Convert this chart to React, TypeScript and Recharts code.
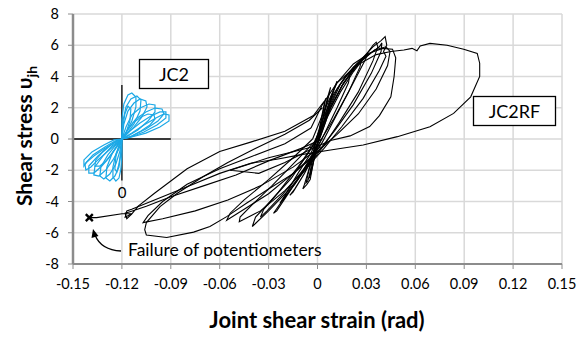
import { ComposedChart, Line, Scatter, XAxis, YAxis, CartesianGrid } from 'recharts';

// tick values
const xTicks = [-0.15, -0.12, -0.09, -0.06, -0.03, 0, 0.03, 0.06, 0.09, 0.12, 0.15];
const yTicks = [-8, -6, -4, -2, 0, 2, 4, 6, 8];

// JC2RF hysteresis (joint shear strain, shear stress)
const rfC1 = [[0, 0], [0.002, 1.0], [0.004, 2.0], [0.005, 2.6], [0.004, 2.2], [0.001, 0.6], [-0.002, -0.6], [-0.004, -1.8], [-0.005, -2.5], [-0.004, -2.2], [-0.001, -0.8], [0.001, 0.2]];
const rfC2 = [[0.001, 0.2], [0.004, 1.5], [0.007, 2.8], [0.008, 3.3], [0.006, 2.6], [0.002, 0.8], [-0.002, -0.6], [-0.005, -1.9], [-0.007, -2.8], [-0.006, -2.7], [-0.003, -1.6], [0, -0.3], [0.002, 0.4]];
const rfC3 = [[0.002, 0.4], [0.006, 2.0], [0.01, 3.2], [0.012, 3.7], [0.01, 3.1], [0.005, 1.3], [0, -0.2], [-0.004, -1.5], [-0.008, -2.9], [-0.009, -3.2], [-0.0065, -2.9], [-0.0045, -2.6], [-0.002, -1.2], [0.001, 0.1]];
const rfM1 = [[0.001, 0.1], [0.006, 1.8], [0.012, 3.2], [0.018, 4.1], [0.02, 4.2], [0.019, 3.6], [0.012, 2.0], [0.005, 0.5], [-0.002, -1.0], [-0.008, -2.2], [-0.014, -3.2], [-0.017, -3.6], [-0.015, -3.4], [-0.008, -2.2], [-0.002, -0.8], [0.002, 0.2]];
const rfM2 = [[0.002, 0.2], [0.008, 2.0], [0.015, 3.4], [0.022, 4.5], [0.028, 5.2], [0.031, 5.5], [0.029, 5.0], [0.02, 3.2], [0.01, 1.2], [0.003, -0.2], [-0.005, -1.5], [-0.014, -2.9], [-0.022, -4.0], [-0.027, -4.75], [-0.025, -4.6], [-0.016, -3.2], [-0.006, -1.5], [0, -0.3]];
const rfM3 = [[0, -0.3], [0.006, 1.4], [0.014, 3.0], [0.022, 4.3], [0.03, 5.4], [0.034, 6.0], [0.036, 6.2], [0.037, 5.9], [0.034, 5.0], [0.025, 3.0], [0.013, 1.0], [0.004, -0.4], [-0.006, -1.8], [-0.018, -3.3], [-0.03, -4.6], [-0.04, -5.6], [-0.038, -5.0], [-0.029, -4.0], [-0.016, -2.5], [-0.005, -0.8], [0.001, 0.3]];
const rfM4 = [[0.001, 0.3], [0.008, 2.0], [0.016, 3.6], [0.026, 5.0], [0.034, 5.9], [0.039, 6.3], [0.0415, 6.55], [0.0425, 6.0], [0.0405, 5.6], [0.042, 5.3], [0.038, 4.4], [0.028, 2.6], [0.015, 0.8], [0.004, -0.6], [-0.008, -2.0], [-0.02, -3.3], [-0.035, -4.6], [-0.048, -5.3], [-0.0475, -5.0], [-0.04, -4.2], [-0.028, -3.0], [-0.014, -1.5], [-0.002, -0.2]];
const rfM5 = [[-0.002, -0.2], [0.006, 1.6], [0.015, 3.4], [0.025, 4.8], [0.035, 5.7], [0.042, 5.9], [0.0445, 5.6], [0.043, 4.7], [0.036, 3.2], [0.025, 1.6], [0.012, 0.3], [0, -0.8], [-0.015, -2.2], [-0.03, -3.5], [-0.045, -4.5], [-0.0557, -5.2], [-0.0536, -4.75], [-0.045, -3.9], [-0.03, -2.6], [-0.015, -1.2], [-0.003, 0]];
const rfM6 = [[-0.003, 0], [0.004, 1.8], [0.012, 3.6], [0.022, 4.8], [0.032, 5.5], [0.04, 5.8], [0.046, 5.75], [0.048, 5.2], [0.047, 4.0], [0.045, 2.7], [0.038, 1.5], [0.032, 0.8], [0.02, 0.2], [0.008, -0.1], [-0.005, -0.7], [-0.02, -1.5], [-0.036, -2.2], [-0.0536, -2.0], [-0.03, -1.2], [-0.0025, -0.5]];
const rfM7 = [[-0.0025, -0.5], [0.003, 1.2], [0.01, 2.9], [0.017, 4.0], [0.024, 4.8], [0.027, 5.1], [0.026, 4.6], [0.019, 3.0], [0.01, 1.3], [0.003, 0.1], [-0.004, -1.2], [-0.012, -2.6], [-0.02, -3.7], [-0.023, -4.1], [-0.02, -3.6], [-0.012, -2.2], [-0.004, -0.9], [0.001, 0.2]];
const rfM8 = [[0.001, 0.2], [0.007, 1.9], [0.014, 3.5], [0.022, 4.6], [0.03, 5.3], [0.038, 5.9], [0.0395, 6.15], [0.039, 5.6], [0.033, 4.2], [0.022, 2.2], [0.011, 0.6], [0.002, -0.6], [-0.009, -2.0], [-0.021, -3.5], [-0.031, -4.6], [-0.035, -5.0], [-0.033, -4.5], [-0.024, -3.4], [-0.012, -1.8], [-0.002, -0.3]];
const rfN1 = [[0.003, 0], [-0.01, -0.6], [-0.03, -1.4], [-0.05, -2.3], [-0.07, -3.0], [-0.09, -3.7], [-0.105, -4.3], [-0.115, -4.65], [-0.118, -4.75], [-0.117, -5.1], [-0.114, -4.8], [-0.11, -4.3], [-0.1, -3.47], [-0.08, -1.9], [-0.06, -0.8], [-0.041, -0.2], [-0.02, 0.5], [-0.0025, 1.5], [0.004, 2.4]];
const rfN2 = [[0.002, -0.5], [-0.015, -1.8], [-0.035, -3.0], [-0.055, -3.9], [-0.075, -4.6], [-0.095, -5.1], [-0.107, -5.35], [-0.104, -4.9], [-0.095, -4.0], [-0.08, -2.9], [-0.06, -1.9], [-0.04, -1.1], [-0.02, -0.3], [-0.004, 0.7]];
const rfN3 = [[0, -0.6], [-0.0025, -1.13], [-0.0147, -2.2], [-0.031, -3.26], [-0.0434, -4.1], [-0.0557, -4.97], [-0.066, -5.6], [-0.076, -5.96], [-0.0925, -6.3], [-0.105, -6.14], [-0.106, -5.8], [-0.105, -5.35], [-0.0966, -4.33], [-0.086, -3.47], [-0.07, -2.4], [-0.055, -1.5], [-0.04, -0.7], [-0.02, 0.3], [-0.005, 1.2], [0.003, 2.0]];
const rfLast = [[-0.004, 0.7], [0.003, 2.2], [0.012, 3.6], [0.024, 4.7], [0.036, 5.4], [0.045, 5.6], [0.053, 5.7], [0.058, 5.8], [0.061, 5.65], [0.063, 5.95], [0.069, 6.12], [0.0795, 6.0], [0.0897, 5.74], [0.098, 5.48], [0.0995, 4.85], [0.0995, 4.0], [0.094, 2.7], [0.0835, 1.64], [0.069, 0.79], [0.049, 0.15], [0.028, -0.38], [0.008, -0.7], [-0.01, -1.0], [-0.025, -1.3], [-0.041, -1.55], [-0.06, -2.2], [-0.08, -3.05], [-0.1, -3.9], [-0.114, -4.5], [-0.117, -4.6], [-0.118, -5.0], [-0.114, -4.78], [-0.12, -4.78], [-0.1355, -5.03], [-0.14, -5.03]];
const failurePoint = [[-0.14, -5.03]];

// JC2 inset loops (drawn around -0.12, 0)
const jcL1 = [[-0.12, 0], [-0.12, 1.28], [-0.1188, 2.24], [-0.1163, 2.82], [-0.1139, 2.94], [-0.1114, 2.69], [-0.1114, 2.05], [-0.1139, 1.15], [-0.1175, 0.38], [-0.12, 0], [-0.12, -0.96], [-0.1206, -1.92], [-0.1218, -2.5], [-0.1237, -2.69], [-0.1255, -2.43], [-0.1255, -1.79], [-0.1237, -0.96], [-0.1212, -0.32], [-0.12, 0]];
const jcL2 = [[-0.12, 0], [-0.1194, 1.15], [-0.1175, 2.05], [-0.1145, 2.56], [-0.1108, 2.75], [-0.1083, 2.5], [-0.1089, 1.79], [-0.1126, 0.96], [-0.1175, 0.26], [-0.12, 0], [-0.1206, -0.9], [-0.1218, -1.79], [-0.1243, -2.37], [-0.1274, -2.69], [-0.1298, -2.5], [-0.1292, -1.79], [-0.1261, -0.96], [-0.1225, -0.32], [-0.12, 0]];
const jcL3 = [[-0.12, 0], [-0.1188, 0.96], [-0.1163, 1.79], [-0.1126, 2.3], [-0.1089, 2.56], [-0.1053, 2.43], [-0.1046, 2.05], [-0.1077, 1.41], [-0.1126, 0.77], [-0.1175, 0.26], [-0.12, 0], [-0.1212, -0.77], [-0.1237, -1.6], [-0.1274, -2.24], [-0.1311, -2.56], [-0.1335, -2.37], [-0.1329, -1.79], [-0.1286, -1.02], [-0.1237, -0.38], [-0.12, 0]];
const jcL4 = [[-0.12, 0], [-0.1175, 0.77], [-0.1139, 1.54], [-0.1089, 1.98], [-0.1034, 2.24], [-0.0997, 2.18], [-0.0997, 1.73], [-0.104, 1.15], [-0.1102, 0.58], [-0.1163, 0.19], [-0.12, 0], [-0.1218, -0.64], [-0.1255, -1.34], [-0.1298, -1.98], [-0.1341, -2.37], [-0.1372, -2.3], [-0.1366, -1.79], [-0.1317, -1.09], [-0.1261, -0.45], [-0.1218, -0.13], [-0.12, 0]];
const jcL5 = [[-0.12, 0], [-0.1163, 0.64], [-0.1114, 1.28], [-0.1053, 1.73], [-0.0997, 1.98], [-0.0954, 1.92], [-0.0942, 1.6], [-0.0979, 1.15], [-0.1053, 0.64], [-0.1139, 0.19], [-0.12, 0], [-0.1231, -0.51], [-0.1274, -1.15], [-0.1323, -1.73], [-0.1372, -2.18], [-0.1403, -2.18], [-0.1403, -1.73], [-0.1347, -1.09], [-0.1286, -0.51], [-0.1231, -0.13], [-0.12, 0]];
const jcL6 = [[-0.12, 0], [-0.1151, 0.51], [-0.1089, 1.02], [-0.1022, 1.47], [-0.0967, 1.73], [-0.093, 1.73], [-0.093, 1.34], [-0.0985, 0.9], [-0.1065, 0.45], [-0.1145, 0.13], [-0.12, 0], [-0.1243, -0.38], [-0.1292, -0.83], [-0.1347, -1.34], [-0.139, -1.79], [-0.1421, -1.98], [-0.1427, -1.6], [-0.1378, -1.02], [-0.1304, -0.51], [-0.1243, -0.13], [-0.12, 0]];
const jcL7 = [[-0.12, 0], [-0.1139, 0.38], [-0.1065, 0.9], [-0.0991, 1.34], [-0.0942, 1.6], [-0.0911, 1.54], [-0.0911, 1.15], [-0.0967, 0.77], [-0.1053, 0.38], [-0.1139, 0.13], [-0.12, 0], [-0.1249, -0.26], [-0.1311, -0.64], [-0.1372, -1.09], [-0.1415, -1.47], [-0.1433, -1.73], [-0.1433, -1.34], [-0.1384, -0.83], [-0.1311, -0.38], [-0.1249, -0.06], [-0.12, 0]];
const jcL8 = [[-0.12, 0], [-0.1194, 0.77], [-0.1182, 1.6], [-0.1163, 2.11], [-0.1145, 1.92], [-0.1151, 1.15], [-0.1175, 0.38], [-0.12, 0], [-0.1206, -0.77], [-0.1218, -1.6], [-0.1231, -2.11], [-0.1243, -1.92], [-0.1237, -1.15], [-0.1218, -0.38], [-0.12, 0]];
const jcL9 = [[-0.12, 0], [-0.1169, 0.51], [-0.1132, 1.02], [-0.1083, 1.41], [-0.104, 1.6], [-0.1003, 1.54], [-0.0997, 1.28], [-0.1028, 0.9], [-0.1083, 0.51], [-0.1151, 0.13], [-0.12, 0], [-0.1225, -0.38], [-0.1261, -0.9], [-0.1298, -1.41], [-0.1335, -1.73], [-0.1366, -1.73], [-0.136, -1.34], [-0.1317, -0.83], [-0.1268, -0.38], [-0.1225, -0.06], [-0.12, 0]];
const insetAxisH = [[-0.15, 0], [-0.09, 0]];
const insetAxisV = [[-0.12, -2.65], [-0.12, 3.45]];

const toPts = (a: number[][]) => a.map(([x, y]) => ({ x, y }));

const rfLoops = [rfC1, rfC2, rfC3, rfM1, rfM7, rfM2, rfM3, rfM8, rfM4, rfM5, rfM6, rfN1, rfN2, rfN3, rfLast];
const jcLoops = [jcL1, jcL2, jcL3, jcL4, jcL5, jcL6, jcL7, jcL8, jcL9];

const font = 'Lato, "Open Sans", sans-serif';

const XMark = (props: any) => {
  const { cx, cy } = props;
  return (
    <g stroke="#000" strokeWidth={2.4}>
      <line x1={cx - 3.5} y1={cy - 3.5} x2={cx + 3.5} y2={cy + 3.5} />
      <line x1={cx - 3.5} y1={cy + 3.5} x2={cx + 3.5} y2={cy - 3.5} />
    </g>
  );
};

export default function App() {
  return (
    <div style={{ position: 'absolute', left: 0, top: 0, width: 579, height: 338, background: '#fff', fontFamily: font }}>
      <ComposedChart width={579} height={338} margin={{ top: 14, right: 17, left: 0, bottom: 0 }}>
        <CartesianGrid stroke="#d9d9d9" strokeWidth={1.5} />
        <XAxis
          type="number"
          dataKey="x"
          domain={[-0.15, 0.15]}
          ticks={xTicks}
          allowDataOverflow
          height={74}
          tickFormatter={(v: number) => (v === 0 ? '0' : v.toFixed(2))}
          tick={{ fill: '#000', fontSize: 14.5, fontFamily: font }}
          stroke="#8c8c8c"
          axisLine={{ stroke: '#8c8c8c', strokeWidth: 2 }}
          tickSize={5}
          tickMargin={10}
        />
        <YAxis
          type="number"
          dataKey="y"
          domain={[-8, 8]}
          ticks={yTicks}
          allowDataOverflow
          width={73}
          tick={{ fill: '#000', fontSize: 14.5, fontFamily: font }}
          stroke="#8c8c8c"
          axisLine={{ stroke: '#8c8c8c', strokeWidth: 2.5 }}
          tickSize={5}
          tickMargin={9}
        />
        <Line data={toPts(insetAxisH)} dataKey="y" stroke="#000" strokeWidth={1.3} dot={false} isAnimationActive={false} />
        <Line data={toPts(insetAxisV)} dataKey="y" stroke="#000" strokeWidth={1.3} dot={false} isAnimationActive={false} />
        {jcLoops.map((l, i) => (
          <Line key={'jc' + i} data={toPts(l)} dataKey="y" type="linear" stroke="#1ba8e6" strokeWidth={1.2} dot={false} isAnimationActive={false} />
        ))}
        {rfLoops.map((l, i) => (
          <Line key={'rf' + i} data={toPts(l)} dataKey="y" type="linear" stroke="#000" strokeWidth={1.1} dot={false} isAnimationActive={false} />
        ))}
        <Scatter data={toPts(failurePoint)} dataKey="y" shape={<XMark />} isAnimationActive={false} />
      </ComposedChart>
      <svg width={579} height={338} style={{ position: 'absolute', left: 0, top: 0, pointerEvents: 'none' }}>
        <text transform="translate(32,136) rotate(-90)" textAnchor="middle" fontFamily={font} fontWeight="bold" fontSize={21}>
          Shear stress υ<tspan fontSize={14} dy={5}>jh</tspan>
        </text>
        <text x={317} y={328} textAnchor="middle" fontFamily={font} fontWeight="bold" fontSize={22}>
          Joint shear strain (rad)
        </text>
        <text x={122} y={198} textAnchor="middle" fontFamily={font} fontSize={15}>0</text>
        <rect x={139.5} y={59.5} width={69} height={29} fill="#fff" stroke="#000" strokeWidth={1.3} />
        <text x={174} y={80.5} textAnchor="middle" fontFamily={font} fontSize={18}>JC2</text>
        <rect x={473.5} y={96.5} width={82} height={29} fill="#fff" stroke="#000" strokeWidth={1.3} />
        <text x={514.5} y={117.5} textAnchor="middle" fontFamily={font} fontSize={18}>JC2RF</text>
        <text x={128} y={256} fontFamily={font} fontSize={17.5}>Failure of potentiometers</text>
        <path d="M 121 251 Q 101 250 95 235" fill="none" stroke="#000" strokeWidth={1.3} />
        <path d="M 93 229 L 91.5 238 L 98.5 236 Z" fill="#000" />
      </svg>
    </div>
  );
}
